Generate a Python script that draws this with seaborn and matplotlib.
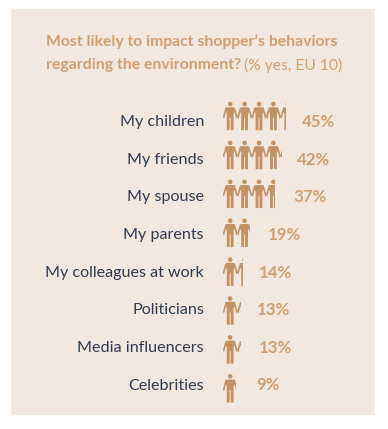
import numpy as np
import pandas as pd
import seaborn as sns
import matplotlib.pyplot as plt
from matplotlib.patches import Rectangle
from matplotlib.path import Path

categories = ["My children", "My friends", "My spouse", "My parents",
              "My colleagues at work", "Politicians", "Media influencers", "Celebrities"]
values = [45, 42, 37, 19, 14, 13, 13, 9]

W, H = 388, 429
PANEL = "#f3e8e0"
ICON = "#c29265"
ACCENT = "#cf9f71"
NAVY = "#2f3b52"

sns.set_theme(style="white")
plt.rcParams["font.family"] = ["Lato", "DejaVu Sans"]

# dpi 72 so one point is one pixel
fig = plt.figure(figsize=(W / 72, H / 72), dpi=72, facecolor="white")
fig.add_artist(Rectangle((11 / W, 1 - 415 / H), 364 / W, 406 / H, transform=fig.transFigure,
                         facecolor=PANEL, edgecolor="none", zorder=-1))

px_x = 1.4      # pixels per percent
px_y = 38.9     # pixels per row
ax = fig.add_axes([223 / W, 1 - 408 / H, 152 / W, 311.2 / H])
ax.patch.set_alpha(0)

df = pd.DataFrame({"label": categories, "value": values})
sns.barplot(data=df, x="value", y="label", orient="h", color=ICON, saturation=1, width=0.8, ax=ax)
ax.set_xlim(0, 152 / px_x)
ax.set_ylim(7.5, -0.5)
ax.set_xlabel("")
ax.set_ylabel("")
ax.set_xticks([])
ax.set_yticks([])
sns.despine(ax=ax, left=True, bottom=True)

# one person, in pixels from the middle of the head column / top of the head
body = [(-3.4, 5.4), (3.4, 5.4), (4.8, 6.0), (7.4, 15.0), (6.2, 17.2), (4.3, 10.2), (3.4, 12.0),
        (3.4, 28.4), (0.5, 28.4), (0.5, 16.0), (-0.5, 16.0), (-0.5, 28.4), (-3.4, 28.4),
        (-3.4, 12.0), (-4.3, 10.2), (-6.2, 17.2), (-7.4, 15.0), (-4.8, 6.0)]
cell = 14.4


def people_path(row, n):
    """clip path with n people for one row, in data coords"""
    paths = []
    for k in range(n):
        cx = 7.2 + k * cell
        pts = [((cx + x) / px_x, row - 0.37 + y / px_y) for x, y in body]
        paths.append(Path(pts + [pts[0]], closed=True))
        head = Path.circle((cx, 2.2), 2.3)
        verts = head.vertices.copy()
        verts[:, 0] = verts[:, 0] / px_x
        verts[:, 1] = row - 0.37 + verts[:, 1] / px_y
        paths.append(Path(verts, head.codes))
    return Path.make_compound_path(*paths)


for i, bar in enumerate(ax.patches[:len(values)]):
    bar.set_edgecolor("none")
    bar.set_clip_path(people_path(i, 5), ax.transData)

# text rows are spaced a little tighter than the icons
label_y = [122, 160, 197, 235, 273, 310, 348, 385.5]
value_x = [302, 297, 293, 268, 259, 257, 259, 256]
for name, val, y, x in zip(categories, values, label_y, value_x):
    fig.text(204 / W, 1 - y / H, name, ha="right", va="center", fontsize=16.1, color=NAVY)
    fig.text(x / W, 1 - y / H, f"{val}%", ha="left", va="center", fontsize=16.8,
             fontweight="bold", color=ACCENT)

fig.text(46 / W, 1 - 41.5 / H, "Most likely to impact shopper\u2019s behaviors", va="center",
         fontsize=15.8, fontweight="bold", color=ACCENT)
fig.text(46 / W, 1 - 65.5 / H, "regarding the environment?", va="center",
         fontsize=15.8, fontweight="bold", color=ACCENT)
fig.text(244 / W, 1 - 65.5 / H, "(% yes, EU 10)", va="center", fontsize=15.6, color=ACCENT)

fig.savefig("out.png", dpi=72, facecolor="white")
